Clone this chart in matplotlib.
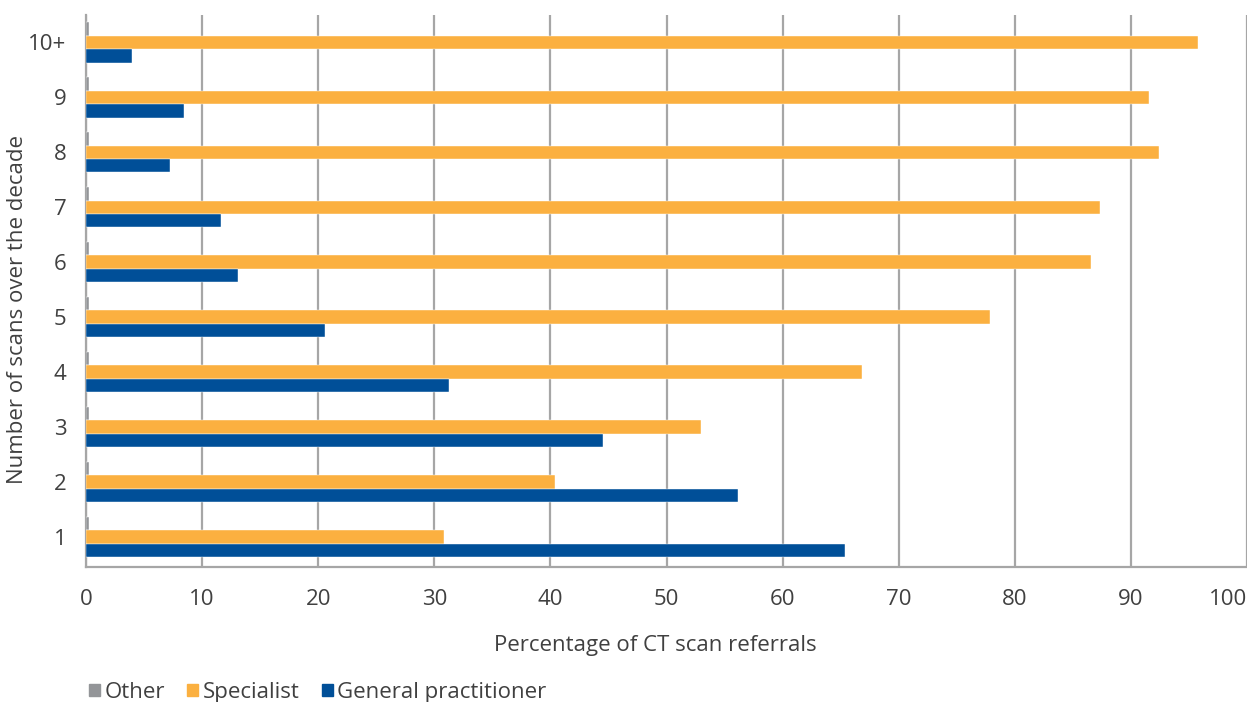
import matplotlib
matplotlib.use("Agg")
import matplotlib.pyplot as plt
import numpy as np
from matplotlib.patches import Patch

categories = ["1", "2", "3", "4", "5", "6", "7", "8", "9", "10+"]
other = [0.25, 0.25, 0.25, 0.25, 0.25, 0.25, 0.25, 0.25, 0.25, 0.25]
specialist = [30.8, 40.4, 53.0, 66.8, 77.9, 86.6, 87.3, 92.4, 91.6, 95.8]
general_practitioner = [65.4, 56.2, 44.5, 31.3, 20.6, 13.1, 11.6, 7.2, 8.4, 4.0]
xticks = [0, 10, 20, 30, 40, 50, 60, 70, 80, 90, 100]

plt.rcParams['font.family'] = ['Open Sans', 'DejaVu Sans']
text_color = "#404040"
c_other = "#939598"
c_spec = "#FBB040"
c_gp = "#004F98"
fs = 16

fig = plt.figure(figsize=(12.47, 7.02), dpi=100)
ax = fig.add_axes([86/1247, 1 - 567/702, (1247 - 86)/1247, (567 - 15)/702])

y = np.arange(len(categories))
h = 0.245
ax.barh(y + 0.245, other, height=h, color=c_other, edgecolor="white", linewidth=0.3, zorder=3)
ax.barh(y, specialist, height=h, color=c_spec, edgecolor="white", linewidth=0.3, zorder=3)
ax.barh(y - 0.245, general_practitioner, height=h, color=c_gp, edgecolor="white", linewidth=0.3, zorder=3)

ax.set_xlim(0, 100)
ax.set_ylim(-0.55, 9.5)
ax.set_xticks(xticks)
ax.set_xticklabels([str(v) for v in xticks])
ax.set_yticks(y)
ax.set_yticklabels(categories)
ax.tick_params(axis='both', length=0, labelsize=fs, colors=text_color)
ax.tick_params(axis='x', pad=16)
ax.tick_params(axis='y', pad=14)
labels = ax.get_xticklabels()
labels[-1].set_horizontalalignment('right')

ax.grid(axis='x', color="#A6A6A6", linewidth=1.6, zorder=0)
for s in ["top", "right"]:
    ax.spines[s].set_visible(False)
ax.spines["left"].set_color("#A6A6A6")
ax.spines["left"].set_linewidth(1.6)
ax.spines["bottom"].set_color("#A6A6A6")
ax.spines["bottom"].set_linewidth(1.6)
ax.set_axisbelow(True)

fig.text(655/1247, 1 - 645/702, "Percentage of CT scan referrals", ha="center", va="center",
         fontsize=fs, color=text_color)
fig.text(18/1247, 1 - 310/702, "Number of scans over the decade", ha="center", va="center",
         rotation=90, fontsize=fs, color=text_color)

handles = [Patch(color=c_other), Patch(color=c_spec), Patch(color=c_gp)]
leg = fig.legend(handles, ["Other", "Specialist", "General practitioner"], loc="lower left",
                 bbox_to_anchor=(80/1247, -0.014), ncol=3, frameon=False, fontsize=fs,
                 handlelength=0.5, handleheight=0.5, handletextpad=0.2, columnspacing=1.0,
                 borderaxespad=0)
for t in leg.get_texts():
    t.set_color(text_color)

fig.savefig("out.png", dpi=100)
